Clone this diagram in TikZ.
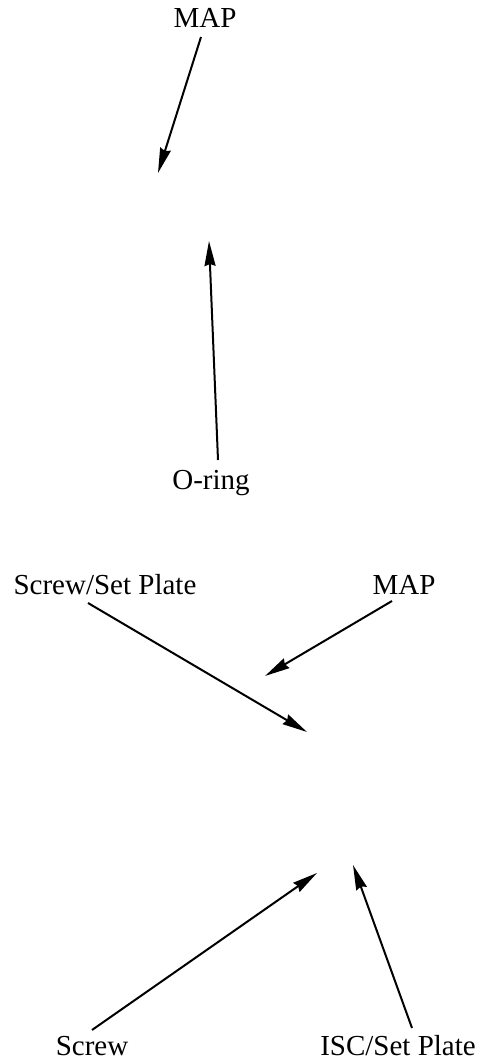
\documentclass[tikz,border=0pt]{standalone}
\usepackage{fontspec}
\setmainfont{Liberation Serif}
\usetikzlibrary{arrows.meta}
\begin{document}
\begin{tikzpicture}[x=1pt,y=1pt,
  lbl/.style={anchor=base,inner sep=0pt,font=\fontsize{29}{34}\selectfont},
  arr/.style={line width=2pt,-{Stealth[length=25pt,width=11pt,inset=2pt]}}]
\useasboundingbox (0,0) rectangle (481,1063);
% labels
\node[lbl] (map1) at (205,1035) {MAP};
\node[lbl] (oring) at (211,573) {O-ring};
\node[lbl] (ssp) at (105,468) {Screw/Set Plate};
\node[lbl] (map2) at (404,468) {MAP};
\node[lbl] (screw) at (92,8) {Screw};
\node[lbl] (isc) at (398,8) {ISC/Set Plate};
% connector ends
\coordinate (s1) at (201,1026); \coordinate (t1) at (158,890);
\coordinate (s2) at (218,603);  \coordinate (t2) at (209,822);
\coordinate (s3) at (88,460);   \coordinate (t3) at (307,331);
\coordinate (s4) at (392,462);  \coordinate (t4) at (265,387);
\coordinate (s5) at (92,33);    \coordinate (t5) at (317,190);
\coordinate (s6) at (412,35);   \coordinate (t6) at (353,198);
% connectors
\draw[arr] (s1) -- (t1);
\draw[arr] (s2) -- (t2);
\draw[arr] (s3) -- (t3);
\draw[arr] (s4) -- (t4);
\draw[arr] (s5) -- (t5);
\draw[arr] (s6) -- (t6);
\end{tikzpicture}
\end{document}
